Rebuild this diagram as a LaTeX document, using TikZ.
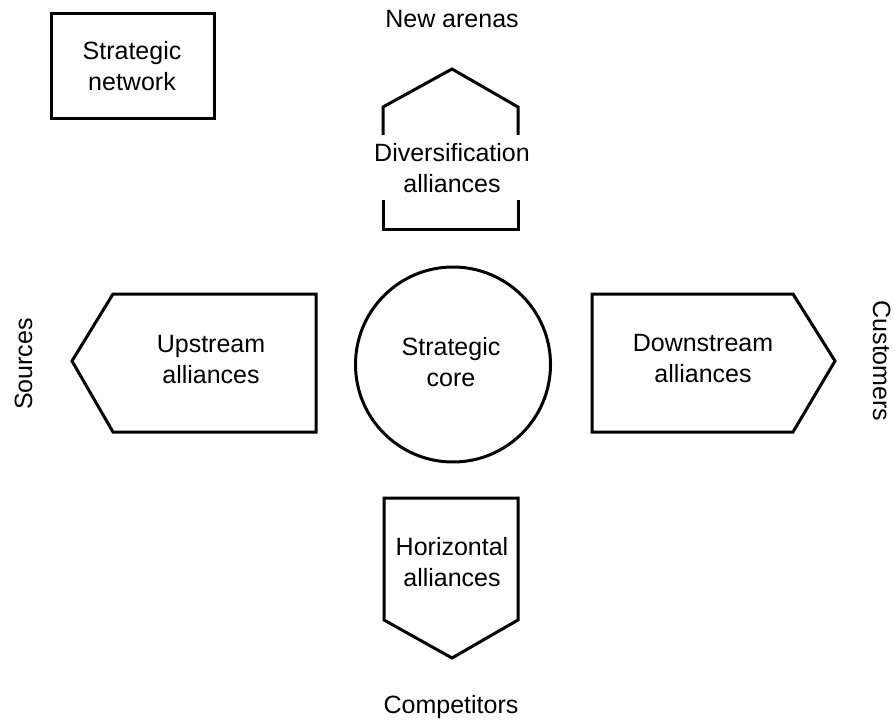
\documentclass[tikz,border=0pt]{standalone}
\usepackage{fontspec}
\setmainfont{Liberation Sans}
\begin{document}
\begin{tikzpicture}[x=1pt,y=-1pt,
  shapeline/.style={draw=black,line width=3pt,line join=miter},
  lbl/.style={font=\fontsize{25}{31}\selectfont,align=center,inner sep=0pt}]
\useasboundingbox (0,0) rectangle (894,722);
% strategic network box
\draw[shapeline] (51,14) rectangle (214,119);
\node[lbl] (net) at (132,66.5) {Strategic\\network};
% diversification (open house shape)
\draw[shapeline] (383,135) -- (383,107) -- (452,69) -- (518,107) -- (518,135);
\draw[shapeline] (383,200) -- (383,230) -- (518,230) -- (518,200);
\node[lbl] (div) at (452,168.5) {Diversification\\alliances};
% upstream
\draw[shapeline] (316,294) -- (113,294) -- (72,361) -- (113,432) -- (316,432) -- cycle;
\node[lbl] (up) at (211,360) {Upstream\\alliances};
% downstream
\draw[shapeline] (592,294) -- (793,294) -- (835,361) -- (793,432) -- (592,432) -- cycle;
\node[lbl] (down) at (703,358.5) {Downstream\\alliances};
% core
\draw[shapeline] (453,364.5) circle (97.5);
\node[lbl] (core) at (451,362) {Strategic\\core};
% horizontal
\draw[shapeline] (384,498) -- (518,498) -- (518,620) -- (452,658) -- (384,620) -- cycle;
\node[lbl] (hor) at (452,562) {Horizontal\\alliances};
% outer labels
\node[lbl,anchor=base] (arenas) at (452,28) {New arenas};
\node[lbl,anchor=base] (comp) at (451,713) {Competitors};
\node[lbl,anchor=base,rotate=90] (src) at (32,364) {Sources};
\node[lbl,anchor=base,rotate=-90] (cust) at (873,361) {Customers};
\end{tikzpicture}
\end{document}
